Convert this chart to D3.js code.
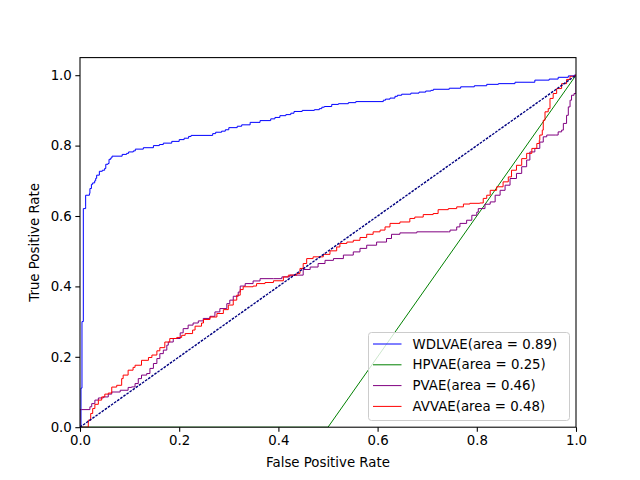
<!DOCTYPE html>
<html>
<head>
<meta charset="utf-8">
<script src="https://cdn.jsdelivr.net/npm/d3@7"></script>
<style>
  body { margin: 0; background: #fff; }
  svg { font-family: "DejaVu Sans", sans-serif; }
</style>
</head>
<body>
<svg id="chart" width="640" height="480"></svg>
<script>
// ROC points [fpr, tpr]
var wdlvaePts = [[0,0],[0.002,0.111],[0.004,0.30],[0.0067,0.621],[0.0114,0.628],[0.0114,0.659],[0.019,0.664],
  [0.020,0.678],[0.023,0.690],[0.0255,0.694],[0.0296,0.700],[0.0316,0.707],[0.0336,0.716],[0.039,0.727],
  [0.045,0.730],[0.0497,0.735],[0.052,0.747],[0.0565,0.749],[0.0585,0.761],[0.062,0.765],[0.0645,0.770],
  [0.085,0.775],[0.094,0.778],[0.098,0.782],[0.1075,0.785],[0.1115,0.790],[0.1277,0.794],[0.148,0.800],
  [0.160,0.803],[0.168,0.807],[0.185,0.812],[0.200,0.817],[0.210,0.821],[0.219,0.826],[0.224,0.829],
  [0.2675,0.834],[0.2735,0.838],[0.2855,0.841],[0.293,0.845],[0.300,0.851],[0.317,0.855],[0.326,0.859],
  [0.343,0.866],[0.363,0.871],[0.3845,0.876],[0.393,0.880],[0.403,0.885],[0.415,0.888],[0.425,0.892],
  [0.4315,0.897],[0.448,0.900],[0.4725,0.902],[0.4825,0.905],[0.4875,0.909],[0.4925,0.911],[0.5075,0.917],
  [0.521,0.919],[0.541,0.922],[0.556,0.925],[0.6115,0.929],[0.616,0.932],[0.625,0.935],[0.635,0.940],
  [0.640,0.943],[0.6485,0.946],[0.667,0.949],[0.6835,0.952],[0.697,0.955],[0.7075,0.957],[0.7125,0.960],
  [0.7445,0.963],[0.7675,0.967],[0.795,0.970],[0.82,0.974],[0.8435,0.976],[0.877,0.980],[0.917,0.986],
  [0.946,0.989],[0.964,0.994],[0.9845,0.998],[0.996,1.0],[1,1]];

var hpvaePts = [[0,0],[0.5,0],[1,1]];

var pvaePts = [[0,0],[0,0.05],[0.0034,0.050],[0.020,0.058],[0.0236,0.067],[0.030,0.077],[0.037,0.083],
  [0.047,0.086],[0.057,0.094],[0.064,0.100],[0.081,0.105],[0.097,0.113],[0.104,0.1145],[0.111,0.124],
  [0.1175,0.138],[0.124,0.148],[0.1345,0.1525],[0.141,0.167],[0.148,0.181],[0.155,0.195],[0.161,0.209],
  [0.168,0.219],[0.175,0.233],[0.178,0.242],[0.188,0.252],[0.202,0.268],[0.208,0.280],[0.218,0.290],
  [0.228,0.296],[0.2385,0.302],[0.2485,0.309],[0.262,0.315],[0.272,0.3275],[0.282,0.337],[0.296,0.351],
  [0.302,0.361],[0.309,0.372],[0.319,0.384],[0.323,0.401],[0.333,0.408],[0.349,0.4155],[0.363,0.422],
  [0.390,0.422],[0.407,0.427],[0.423,0.432],[0.450,0.448],[0.464,0.455],[0.480,0.465],[0.494,0.474],
  [0.511,0.479],[0.531,0.489],[0.551,0.498],[0.5645,0.508],[0.578,0.517],[0.598,0.526],[0.618,0.536],
  [0.628,0.548],[0.645,0.552],[0.679,0.555],[0.7425,0.555],[0.746,0.560],[0.7595,0.569],[0.766,0.579],
  [0.7795,0.588],[0.790,0.602],[0.800,0.611],[0.803,0.621],[0.8165,0.6335],[0.827,0.640],[0.837,0.659],
  [0.847,0.673],[0.857,0.6875],[0.867,0.7065],[0.880,0.721],[0.8905,0.740],[0.9005,0.759],[0.907,0.782],
  [0.917,0.792],[0.927,0.810],[0.934,0.825],[0.941,0.830],[0.958,0.830],[0.964,0.839],[0.971,0.844],
  [0.9745,0.863],[0.981,0.886],[0.9845,0.910],[0.988,0.929],[0.991,0.943],[0.996,0.948],[1,0.97],[1,1]];

var avvaePts = [[0,0],[0.004,0],[0.0167,0.020],[0.0216,0.039],[0.0256,0.053],[0.030,0.065],[0.037,0.077],
  [0.0437,0.086],[0.050,0.094],[0.057,0.097],[0.064,0.114],[0.074,0.119],[0.084,0.138],[0.087,0.148],
  [0.097,0.162],[0.107,0.170],[0.111,0.176],[0.124,0.190],[0.138,0.198],[0.145,0.205],[0.155,0.217],
  [0.161,0.226],[0.171,0.242],[0.181,0.252],[0.195,0.255],[0.205,0.261],[0.212,0.266],[0.227,0.276],
  [0.232,0.287],[0.245,0.296],[0.249,0.306],[0.262,0.313],[0.276,0.323],[0.289,0.334],[0.299,0.347],
  [0.309,0.361],[0.316,0.375],[0.323,0.391],[0.329,0.399],[0.349,0.401],[0.356,0.408],[0.373,0.411],
  [0.390,0.416],[0.410,0.427],[0.420,0.432],[0.437,0.437],[0.4435,0.451],[0.450,0.465],[0.457,0.479],
  [0.470,0.484],[0.4905,0.491],[0.504,0.501],[0.5175,0.512],[0.524,0.522],[0.538,0.526],[0.551,0.531],
  [0.5645,0.539],[0.578,0.548],[0.591,0.555],[0.605,0.560],[0.615,0.569],[0.625,0.579],[0.645,0.583],
  [0.665,0.593],[0.675,0.597],[0.692,0.604],[0.712,0.607],[0.722,0.618],[0.7425,0.621],[0.7595,0.626],
  [0.773,0.634],[0.786,0.636],[0.806,0.637],[0.813,0.650],[0.820,0.659],[0.827,0.673],[0.840,0.683],
  [0.853,0.697],[0.8635,0.711],[0.870,0.730],[0.880,0.744],[0.8905,0.763],[0.9005,0.778],[0.911,0.792],
  [0.921,0.806],[0.926,0.815],[0.927,0.830],[0.932,0.844],[0.934,0.872],[0.9375,0.896],[0.944,0.905],
  [0.9476,0.934],[0.954,0.948],[0.961,0.962],[0.971,0.976],[0.981,0.988],[0.988,0.997],[0.998,1.0],[1,1]];

var chancePts = [[0,0],[1,1]];

var seriesNames = ["WDLVAE", "HPVAE", "PVAE", "AVVAE"];
var seriesAreas = [0.89, 0.25, 0.46, 0.48];
var seriesColors = ["blue", "green", "purple", "red"];
var xTicks = [0, 0.2, 0.4, 0.6, 0.8, 1.0];
var yTicks = [0, 0.2, 0.4, 0.6, 0.8, 1.0];

var svg = d3.select("#chart"),
    margin = {top: 57.6, right: 64, bottom: 52.8, left: 80},
    width = +svg.attr("width") - margin.left - margin.right,
    height = +svg.attr("height") - margin.top - margin.bottom,
    g = svg.append("g").attr("transform", "translate(" + margin.left + "," + margin.top + ")");

var x = d3.scaleLinear().domain([0, 1]).range([0, width]);
var y = d3.scaleLinear().domain([0, 1.05]).range([height, 0]);

var stepLine = d3.line()
    .x(function (d) { return x(d[0]); })
    .y(function (d) { return y(d[1]); })
    .curve(d3.curveStepAfter);

var straightLine = d3.line()
    .x(function (d) { return x(d[0]); })
    .y(function (d) { return y(d[1]); });

g.append("defs").append("clipPath").attr("id", "clip")
  .append("rect").attr("width", width).attr("height", height);

var plot = g.append("g").attr("clip-path", "url(#clip)");

function addCurve(pts, color, lineFn) {
  return plot.append("path")
      .datum(pts)
      .attr("fill", "none")
      .attr("stroke", color)
      .attr("stroke-width", 1)
      .attr("d", lineFn);
}

addCurve(wdlvaePts, seriesColors[0], stepLine);
addCurve(hpvaePts, seriesColors[1], straightLine);
addCurve(pvaePts, seriesColors[2], stepLine);
addCurve(avvaePts, seriesColors[3], stepLine);
addCurve(chancePts, "navy", straightLine)
    .attr("stroke-width", 1.4)
    .attr("stroke-dasharray", "2.6,1.2");

// axes
var xAxis = g.append("g")
    .attr("transform", "translate(0," + height + ")")
    .call(d3.axisBottom(x).tickValues(xTicks).tickFormat(d3.format(".1f")).tickSize(4.67).tickPadding(3.5));
var yAxis = g.append("g")
    .call(d3.axisLeft(y).tickValues(yTicks).tickFormat(d3.format(".1f")).tickSize(4.67).tickPadding(3.5));

[xAxis, yAxis].forEach(function (a) {
  a.select(".domain").remove();
  a.selectAll("line").attr("stroke", "#000").attr("stroke-width", 1.07);
  a.selectAll("text").attr("fill", "#000").style("font-size", "13.33px")
    .style("font-family", "DejaVu Sans, sans-serif");
});

g.append("rect")
    .attr("width", width).attr("height", height)
    .attr("fill", "none").attr("stroke", "#000").attr("stroke-width", 1.07);

svg.append("text")
    .attr("x", margin.left + width / 2).attr("y", 467)
    .attr("text-anchor", "middle").style("font-size", "13.33px")
    .text("False Positive Rate");

svg.append("text")
    .attr("transform", "translate(39," + (margin.top + height / 2) + ") rotate(-90)")
    .attr("text-anchor", "middle").style("font-size", "13.33px")
    .text("True Positive Rate");

// legend
var legend = svg.append("g").attr("transform", "translate(368.5,332.5)");
legend.append("rect")
    .attr("width", 201).attr("height", 88).attr("rx", 3).attr("ry", 3)
    .attr("fill", "#fff").attr("fill-opacity", 0.8)
    .attr("stroke", "#cccccc").attr("stroke-width", 1);

var items = legend.selectAll(".item")
    .data(seriesNames)
    .enter().append("g")
    .attr("transform", function (d, i) { return "translate(0," + (11.5 + i * 20.8) + ")"; });

items.append("line")
    .attr("x1", 4.5).attr("x2", 33)
    .attr("stroke", function (d, i) { return seriesColors[i]; })
    .attr("stroke-width", 1);

items.append("text")
    .attr("x", 44).attr("dy", "0.35em")
    .style("font-size", "13.33px")
    .text(function (d, i) { return d + "(area = " + seriesAreas[i].toFixed(2) + ")"; });
</script>
</body>
</html>
